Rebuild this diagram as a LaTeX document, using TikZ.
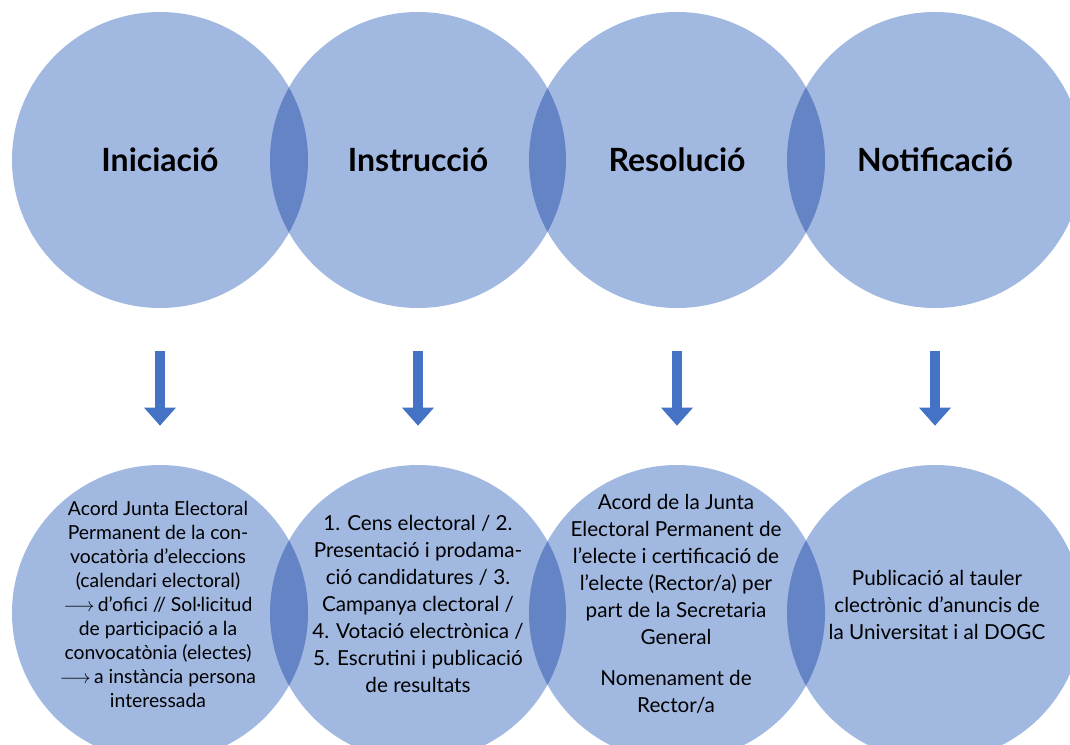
\documentclass[tikz,border=0pt]{standalone}
\usepackage{fontspec}
\setmainfont{Lato}
\usetikzlibrary{arrows.meta}
\definecolor{vennblue}{RGB}{68,114,196}
\definecolor{vennlight}{RGB}{161,184,225}

\tikzset{
  venn/.style={circle, minimum size=222pt, inner sep=0pt, fill=vennlight, blend mode=multiply},
  stagename/.style={font=\fontsize{24}{29}\selectfont\bfseries, inner sep=0.75pt},
  stagetext/.style={font=\fontsize{15.5}{20.25}\selectfont, align=center, inner sep=0.75pt},
  downarrow/.style={draw=vennblue, line width=7.5pt,
    -{Triangle[width=23pt,length=13.5pt]}, shorten <=32.25pt, shorten >=29.25pt}
}

\begin{document}
\begin{tikzpicture}[x=0.75pt,y=0.75pt,yscale=-1,xscale=1]
\useasboundingbox (0,0) rectangle (1070,745);

%Shape: upper circles
\node[venn] (ini) at (160,160) {};
\node[venn] (ins) at (418,160) {};
\node[venn] (res) at (677,160) {};
\node[venn] (not) at (935,160) {};
%Shape: lower circles
\node[venn] (iniB) at (160,613) {};
\node[venn] (insB) at (418,613) {};
\node[venn] (resB) at (677,613) {};
\node[venn] (notB) at (935,613) {};

%Straight Lines
\draw[downarrow] (ini) -- (iniB);
\draw[downarrow] (ins) -- (insB);
\draw[downarrow] (res) -- (resB);
\draw[downarrow] (not) -- (notB);

% Text Node
\node[stagename] (iniT) at (ini) {Iniciació};
\node[stagename] (insT) at (ins) {Instrucció};
\node[stagename] (resT) at (res) {Resolució};
\node[stagename] (notT) at (not) {Notificació};

% Text Node
\node[stagetext, font=\fontsize{14.5}{18}\selectfont] (iniBT) at (158,604) {Acord Junta Electoral\\Permanent de la con-\\vocatòria d{\char"0027}eleccions\\(calendari electoral)\\$\longrightarrow$\,d’ofici // Sol·licitud\\de participació a la\\convocatònia (electes)\\$\longrightarrow$\,a instància persona\\interessada};
% Text Node
\node[stagetext] (insBT) at (418,604) {1. Cens electoral / 2.\\Presentació i prodama-\\ció candidatures / 3.\\Campanya clectoral /\\4. Votació electrònica /\\5. Escrutini i publicació\\de resultats};
% Text Node
\node[stagetext] (resBT) at (676,604) {Acord de la Junta\\Electoral Permanent de\\l’electe i certificació de\\l’electe (Rector/a) per\\part de la Secretaria\\General\\[10.5pt]Nomenament de\\Rector/a};
% Text Node
\node[stagetext] (notBT) at (937,605) {Publicació al tauler\\clectrònic d’anuncis de\\la Universitat i al DOGC};

\end{tikzpicture}
\end{document}
